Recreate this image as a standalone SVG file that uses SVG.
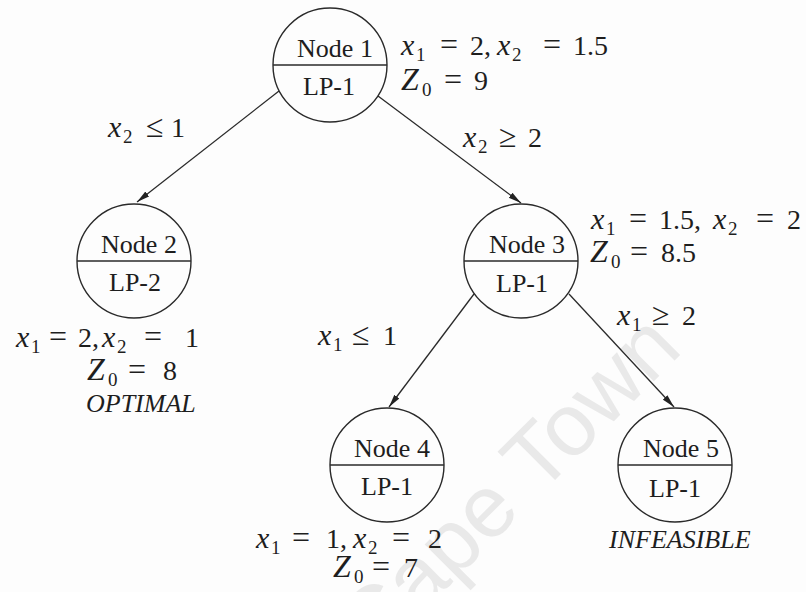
<svg xmlns="http://www.w3.org/2000/svg" width="806" height="592" viewBox="0 0 806 592">
<defs>
<style>
.bg{fill:#fdfdfd}
.wm{font-family:'Liberation Sans',Arial,sans-serif;font-size:88px;fill:#e9e9e9}
.c{fill:none;stroke:#2a2a2a;stroke-width:1.4}
.d{stroke:#2a2a2a;stroke-width:1.4}
.e{stroke:#2a2a2a;stroke-width:1.3;fill:none}
.t{font-size:26px;fill:#1e1e1e;text-anchor:middle}
.it{font-size:26px;font-style:italic;fill:#1e1e1e}
.m{font-size:28px;fill:#1e1e1e}
.v{font-style:italic;font-size:30px}
.z{font-style:italic;font-size:32px}
.s{font-size:19px}
.o{font-size:32px}
</style>
<marker id="ah" markerWidth="14" markerHeight="8" refX="13" refY="4" orient="auto" markerUnits="userSpaceOnUse">
<path d="M0,0.9 L13,4 L0,7.1 z" fill="#222"/>
</marker>
</defs>
<rect class="bg" x="0" y="0" width="806" height="592"/>
<g id="watermark">
<text class="wm" x="374" y="661" transform="rotate(-45 374 661)">Cape Town</text>
</g>
<g font-family="'Liberation Serif', 'Times New Roman', Tinos, 'DejaVu Serif', serif">
<g id="connectors">
<line class="e" x1="279" y1="91" x2="137" y2="202" marker-end="url(#ah)"/>
<line class="e" x1="378" y1="96" x2="521" y2="203" marker-end="url(#ah)"/>
<line class="e" x1="474" y1="294" x2="389" y2="407" marker-end="url(#ah)"/>
<line class="e" x1="569" y1="294" x2="674" y2="407" marker-end="url(#ah)"/>
<text class="m"><tspan class="v" x="108" y="137">x</tspan><tspan class="s" x="123" y="143">2</tspan><tspan class="o" x="146" y="137">≤</tspan><tspan x="171" y="137">1</tspan></text>
<text class="m"><tspan class="v" x="463" y="147">x</tspan><tspan class="s" x="478" y="153">2</tspan><tspan class="o" x="499" y="147">≥</tspan><tspan x="528" y="147">2</tspan></text>
<text class="m"><tspan class="v" x="318" y="345">x</tspan><tspan class="s" x="333" y="351">1</tspan><tspan class="o" x="352" y="345">≤</tspan><tspan x="383" y="345">1</tspan></text>
<text class="m"><tspan class="v" x="617" y="325">x</tspan><tspan class="s" x="632" y="331">1</tspan><tspan class="o" x="652" y="325">≥</tspan><tspan x="682" y="325">2</tspan></text>
</g>
<g id="node1">
<circle class="c" cx="330" cy="65" r="57"/>
<line class="d" x1="273" y1="65" x2="387" y2="65"/>
<text class="t" x="335" y="57">Node 1</text>
<text class="t" x="329" y="95">LP-1</text>
<text class="m"><tspan class="v" x="401" y="55">x</tspan><tspan class="s" x="416" y="61">1</tspan><tspan class="o" x="440" y="55">=</tspan><tspan x="470" y="55">2,</tspan><tspan class="v" x="497" y="55">x</tspan><tspan class="s" x="512" y="61">2</tspan><tspan class="o" x="543" y="55">=</tspan><tspan x="573" y="55">1.5</tspan></text>
<text class="m"><tspan class="z" x="401" y="90">Z</tspan><tspan class="s" x="422" y="96">0</tspan><tspan class="o" x="444" y="90">=</tspan><tspan x="474" y="90">9</tspan></text>
</g>
<g id="node2">
<circle class="c" cx="134" cy="261" r="57"/>
<line class="d" x1="77" y1="261" x2="191" y2="261"/>
<text class="t" x="139" y="253">Node 2</text>
<text class="t" x="135" y="291">LP-2</text>
<text class="m"><tspan class="v" x="16" y="347">x</tspan><tspan class="s" x="31" y="353">1</tspan><tspan class="o" x="49" y="347">=</tspan><tspan x="78" y="347">2,</tspan><tspan class="v" x="102" y="347">x</tspan><tspan class="s" x="117" y="353">2</tspan><tspan class="o" x="144" y="347">=</tspan><tspan x="185" y="347">1</tspan></text>
<text class="m"><tspan class="z" x="87" y="380">Z</tspan><tspan class="s" x="108" y="386">0</tspan><tspan class="o" x="128" y="380">=</tspan><tspan x="163" y="380">8</tspan></text>
<text class="it" x="86" y="412">OPTIMAL</text>
</g>
<g id="node3">
<circle class="c" cx="521" cy="261" r="57"/>
<line class="d" x1="464" y1="261" x2="578" y2="261"/>
<text class="t" x="527" y="253">Node 3</text>
<text class="t" x="522" y="292">LP-1</text>
<text class="m"><tspan class="v" x="591" y="229">x</tspan><tspan class="s" x="606" y="235">1</tspan><tspan class="o" x="629" y="229">=</tspan><tspan x="659" y="229">1.5,</tspan><tspan class="v" x="713" y="229">x</tspan><tspan class="s" x="728" y="235">2</tspan><tspan class="o" x="756" y="229">=</tspan><tspan x="787" y="229">2</tspan></text>
<text class="m"><tspan class="z" x="590" y="262">Z</tspan><tspan class="s" x="611" y="268">0</tspan><tspan class="o" x="630" y="262">=</tspan><tspan x="661" y="262">8.5</tspan></text>
</g>
<g id="node4">
<circle class="c" cx="387" cy="465" r="57"/>
<line class="d" x1="330" y1="465" x2="444" y2="465"/>
<text class="t" x="392" y="457">Node 4</text>
<text class="t" x="387" y="495">LP-1</text>
<text class="m"><tspan class="v" x="256" y="548">x</tspan><tspan class="s" x="271" y="554">1</tspan><tspan class="o" x="292" y="548">=</tspan><tspan x="326" y="548">1,</tspan><tspan class="v" x="353" y="548">x</tspan><tspan class="s" x="368" y="554">2</tspan><tspan class="o" x="392" y="548">=</tspan><tspan x="428" y="548">2</tspan></text>
<text class="m"><tspan class="z" x="333" y="577">Z</tspan><tspan class="s" x="354" y="583">0</tspan><tspan class="o" x="372" y="577">=</tspan><tspan x="404" y="577">7</tspan></text>
</g>
<g id="node5">
<circle class="c" cx="675" cy="465" r="57"/>
<line class="d" x1="618" y1="465" x2="732" y2="465"/>
<text class="t" x="681" y="457">Node 5</text>
<text class="t" x="675" y="497">LP-1</text>
<text class="it" x="609" y="548">INFEASIBLE</text>
</g>
</g>
</svg>
